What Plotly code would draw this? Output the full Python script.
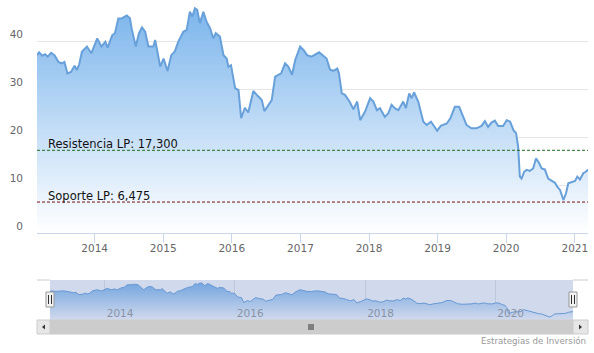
import plotly.graph_objects as go
import pandas as pd

dates = ["2013-02-28","2013-03-11","2013-03-28","2013-04-12","2013-04-26","2013-05-14","2013-06-01","2013-06-22",
"2013-07-10","2013-07-24","2013-08-09","2013-08-28","2013-09-16","2013-09-28","2013-10-11","2013-10-25","2013-11-21",
"2013-12-14","2014-01-15","2014-02-06","2014-02-27","2014-03-11","2014-04-05","2014-04-19","2014-05-07","2014-05-25",
"2014-06-21","2014-07-08","2014-07-17","2014-08-08","2014-08-25","2014-09-10","2014-09-27","2014-10-14","2014-11-10",
"2014-11-19","2014-11-28","2014-12-16","2015-01-03","2015-01-24","2015-02-13","2015-03-04","2015-03-22","2015-04-18",
"2015-05-06","2015-05-23","2015-06-05","2015-06-19","2015-07-01","2015-07-15","2015-08-03","2015-08-20","2015-09-08",
"2015-09-25","2015-10-08","2015-10-30","2015-11-18","2015-12-05","2015-12-14","2015-12-28","2016-01-19","2016-02-06",
"2016-02-20","2016-03-11","2016-03-29","2016-04-25","2016-05-18","2016-06-09","2016-06-23","2016-07-14","2016-08-01",
"2016-08-19","2016-09-06","2016-09-20","2016-10-11","2016-10-28","2016-11-17","2016-12-04","2016-12-30","2017-01-17",
"2017-02-05","2017-03-01","2017-04-10","2017-05-02","2017-05-20","2017-06-07","2017-06-25","2017-07-16","2017-07-25",
"2017-08-09","2017-08-26","2017-09-19","2017-10-10","2017-10-30","2017-11-15","2017-12-11","2018-01-07","2018-01-24",
"2018-02-12","2018-02-28","2018-03-26","2018-04-13","2018-05-01","2018-05-18","2018-06-06","2018-07-02","2018-07-16",
"2018-08-03","2018-08-16","2018-08-29","2018-09-20","2018-10-17","2018-11-04","2018-11-27","2018-12-09","2018-12-30",
"2019-01-18","2019-02-19","2019-03-10","2019-04-03","2019-04-26","2019-05-13","2019-06-04","2019-06-30","2019-07-27",
"2019-08-23","2019-09-10","2019-09-27","2019-10-15","2019-11-02","2019-11-20","2019-12-16","2020-01-04","2020-01-22",
"2020-02-09","2020-02-23","2020-03-05","2020-03-14","2020-03-23","2020-04-06","2020-04-19","2020-05-06","2020-05-24",
"2020-06-08","2020-06-25","2020-07-08","2020-07-25","2020-08-12","2020-08-30","2020-09-17","2020-09-29","2020-10-14",
"2020-11-01","2020-11-15","2020-11-27","2020-12-15","2021-01-02","2021-01-14","2021-01-28","2021-02-15","2021-02-28",
"2021-03-12"]

prices = [37.2,37.8,37.1,37.4,36.9,37.7,37.2,35.8,
35.5,35.8,33.4,33.7,35.0,34.1,35.3,37.9,39.0,
37.6,40.7,39.0,40.0,38.8,41.4,41.8,44.9,44.9,
45.5,44.9,42.8,39.0,41.8,43.0,42.1,39.0,39.0,
40.4,38.6,34.8,36.5,33.9,37.2,38.0,40.0,42.1,
42.5,46.3,45.3,47.0,46.7,43.9,46.3,44.2,42.8,
40.7,41.8,41.1,37.2,36.5,34.8,35.1,30.3,29.9,
24.0,26.2,25.2,29.7,28.7,27.8,25.5,26.8,27.8,
32.7,33.1,33.4,35.5,34.8,33.1,36.2,39.0,38.3,
37.2,36.9,37.8,37.0,36.5,34.2,33.9,34.4,33.4,
29.2,28.9,27.5,25.9,27.5,23.6,25.4,28.2,27.5,
25.7,26.1,24.3,25.0,26.8,26.1,25.7,27.5,26.1,
29.2,28.2,29.4,27.5,23.3,22.6,23.3,22.6,21.4,
22.4,22.9,24.0,26.4,26.4,24.7,22.6,21.9,21.9,
22.4,23.4,22.2,23.1,23.5,22.4,22.4,23.6,23.3,
21.5,20.9,18.1,11.8,11.4,12.8,13.2,13.0,13.5,
15.6,14.6,13.5,13.3,11.4,10.9,10.5,9.7,9.0,
6.9,8.3,10.4,10.7,10.9,11.8,11.2,12.5,12.8,
13.3]

resistance = 17.300
support = 6.475
y_ticks = [0, 10, 20, 30, 40]
nav_years = ["2014-01-01", "2016-01-01", "2018-01-01", "2020-01-01"]

W, H = 594, 353
def px_x(p): return p / W
def px_y(p): return 1 - p / H

BLUE = "rgb(124,181,236)"
LINE = "rgb(104,160,218)"
FONT = "DejaVu Sans"

t0 = pd.Timestamp(dates[0]); t1 = pd.Timestamp(dates[-1])
span = t1 - t0
nav_lo = t0 - span * (13 / 523)
nav_hi = t1 + span * (15 / 523)
ymax = max(prices)

fig = go.Figure()
fig.add_trace(go.Scatter(
    x=dates, y=prices, mode="lines", line=dict(color=LINE, width=2),
    fill="tozeroy",
    fillgradient=dict(type="vertical", colorscale=[[0, "rgba(255,255,255,1)"], [1, BLUE]], start=0, stop=ymax),
    xaxis="x", yaxis="y", showlegend=False, hoverinfo="skip"))
fig.add_trace(go.Scatter(
    x=dates, y=prices, mode="lines", line=dict(color=LINE, width=1),
    fill="tozeroy",
    fillgradient=dict(type="vertical", colorscale=[[0, "rgba(255,255,255,1)"], [1, BLUE]], start=3.4, stop=ymax),
    xaxis="x2", yaxis="y2", showlegend=False, hoverinfo="skip"))

shapes = []
shapes.append(dict(type="line", xref="x domain", x0=0, x1=1, yref="y", y0=resistance, y1=resistance,
                   line=dict(color="#1f6b1f", width=1, dash="3px,2px")))
shapes.append(dict(type="line", xref="x domain", x0=0, x1=1, yref="y", y0=support, y1=support,
                   line=dict(color="#7a0f0f", width=1, dash="3px,2px")))
nav_top, nav_bot = px_y(280), px_y(320)
shapes.append(dict(type="rect", xref="x2", x0=dates[0], x1=dates[-1], yref="paper", y0=nav_bot, y1=nav_top,
                   fillcolor="rgba(102,133,194,0.3)", line=dict(width=0), layer="above"))
shapes.append(dict(type="line", xref="paper", x0=px_x(37), x1=px_x(50), yref="paper", y0=nav_top, y1=nav_top,
                   line=dict(color="#cccccc", width=1)))
shapes.append(dict(type="line", xref="paper", x0=px_x(573), x1=px_x(588), yref="paper", y0=nav_top, y1=nav_top,
                   line=dict(color="#cccccc", width=1)))
for d in (dates[0], dates[-1]):
    shapes.append(dict(type="rect", xref="x2", xsizemode="pixel", xanchor=d, x0=-4, x1=4,
                       yref="paper", y0=px_y(307), y1=px_y(292),
                       fillcolor="#f2f2f2", line=dict(color="#999999", width=1), layer="above"))
    for dx in (-1.5, 1.5):
        shapes.append(dict(type="line", xref="x2", xsizemode="pixel", xanchor=d, x0=dx, x1=dx,
                           yref="paper", y0=px_y(304), y1=px_y(295),
                           line=dict(color="#333333", width=1), layer="above"))
sb_top, sb_bot = px_y(320), px_y(334)
shapes.append(dict(type="rect", xref="paper", x0=px_x(50), x1=px_x(573), yref="paper", y0=sb_bot, y1=sb_top,
                   fillcolor="#cccccc", line=dict(color="#cccccc", width=1)))
for a, b in ((37, 50), (573, 588)):
    shapes.append(dict(type="rect", xref="paper", x0=px_x(a), x1=px_x(b), yref="paper", y0=sb_bot, y1=sb_top,
                       fillcolor="#e6e6e6", line=dict(color="#cccccc", width=1)))
def tri(points):
    xs = [px_x(p[0]) for p in points]; ys = [px_y(p[1]) for p in points]
    return "M {} {} L {} {} L {} {} Z".format(xs[0], ys[0], xs[1], ys[1], xs[2], ys[2])
shapes.append(dict(type="path", xref="paper", yref="paper", path=tri([(42, 327), (45, 324.5), (45, 329.5)]),
                   fillcolor="#333333", line=dict(width=0)))
shapes.append(dict(type="path", xref="paper", yref="paper", path=tri([(582, 327), (579, 324.5), (579, 329.5)]),
                   fillcolor="#333333", line=dict(width=0)))
for gx in (309, 311, 313):
    shapes.append(dict(type="line", xref="paper", x0=px_x(gx), x1=px_x(gx), yref="paper", y0=px_y(330), y1=px_y(324),
                       line=dict(color="#333333", width=1)))

def fmt(v):
    return f"{v:,.3f}".replace(".", "#").replace(",", ".").replace("#", ",")

annotations = [
    dict(text=f"Resistencia LP: {fmt(resistance)}", xref="x domain", x=0, xshift=9, xanchor="left",
         yref="y", y=resistance, yanchor="bottom", yshift=-3, showarrow=False,
         font=dict(family=FONT, size=11.5, color="#111111")),
    dict(text=f"Soporte LP: {fmt(support)}", xref="x domain", x=0, xshift=9, xanchor="left",
         yref="y", y=support, yanchor="bottom", yshift=-3, showarrow=False,
         font=dict(family=FONT, size=11.5, color="#111111")),
    dict(text="Estrategias de Inversión", xref="paper", x=px_x(588), xanchor="right",
         yref="paper", y=px_y(341), yanchor="middle", showarrow=False,
         font=dict(family=FONT, size=8.7, color="#999999")),
]

fig.update_layout(
    width=W, height=H, margin=dict(l=0, r=0, t=0, b=0),
    paper_bgcolor="white", plot_bgcolor="rgba(0,0,0,0)",
    font=dict(family=FONT),
    xaxis=dict(domain=[px_x(37), px_x(588)], range=[dates[0], dates[-1]], type="date",
               dtick="M12", tick0="2014-01-01", tickformat="%Y", showgrid=False,
               showline=True, linecolor="#ccd6eb", linewidth=1, ticks="outside", ticklen=9,
               tickcolor="#ccd6eb", tickfont=dict(size=10.5, color="#666666", family=FONT),
               ticklabelstandoff=-4, zeroline=False, fixedrange=True, anchor="y"),
    yaxis=dict(domain=[px_y(233), 1], range=[0, 233 / 4.78], tickvals=y_ticks,
               showgrid=True, gridcolor="#e6e6e6", gridwidth=1, zeroline=False, showline=False,
               tickfont=dict(size=10.5, color="#666666", family=FONT), ticklabelshift=-7,
               ticklabelstandoff=13, fixedrange=True, anchor="x"),
    xaxis2=dict(domain=[px_x(37), px_x(588)], range=[nav_lo, nav_hi], type="date",
                tickvals=nav_years, tickformat="%Y", showgrid=True, gridcolor="#e6e6e6",
                ticklabelposition="inside right", ticks="", showline=False, zeroline=False,
                ticklabelstandoff=-5, ticklabelshift=2,
                tickfont=dict(size=10.5, color="#999999", family=FONT), anchor="y2", fixedrange=True),
    yaxis2=dict(domain=[nav_bot, nav_top], range=[3.4, 50.5], showgrid=False, showticklabels=False,
                zeroline=False, showline=False, anchor="x2", fixedrange=True),
    shapes=shapes, annotations=annotations,
)

fig.write_html("out.html")
